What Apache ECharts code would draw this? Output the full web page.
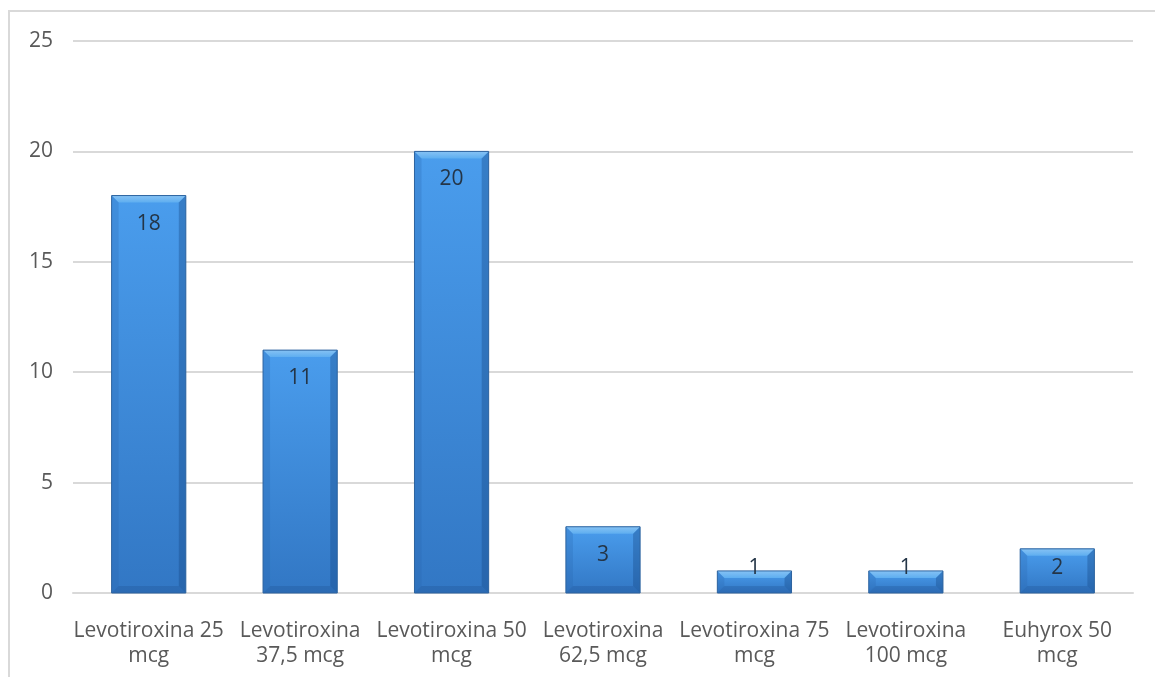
<!DOCTYPE html>
<html>
<head>
<meta charset="utf-8">
<script src="https://cdn.jsdelivr.net/npm/echarts@6/dist/echarts.min.js"></script>
<style>
  html, body { margin: 0; padding: 0; background: #fff; }
  #chart { width: 1155px; height: 677px; }
</style>
</head>
<body>
<div id="chart"></div>
<script>
// Presentations of levothyroxine and number of patients on each
const categories = [
  'Levotiroxina 25\nmcg',
  'Levotiroxina\n37,5 mcg',
  'Levotiroxina 50\nmcg',
  'Levotiroxina\n62,5 mcg',
  'Levotiroxina 75\nmcg',
  'Levotiroxina\n100 mcg',
  'Euhyrox 50\nmcg'
];
const patients = [18, 11, 20, 3, 1, 1, 2];
const yTicks = [0, 5, 10, 15, 20, 25];

const FONT = '"Open Sans", "Liberation Sans", sans-serif';

// Bevelled bar: flat face plus lit top edge and shaded sides/bottom
function renderBevelBar(params, api) {
  const idx = api.value(0);
  const val = api.value(1);
  const top = api.coord([idx, val]);
  const base = api.coord([idx, 0]);
  const w = api.size([1, 0])[0] * 0.49;
  const x0 = top[0] - w / 2, x1 = top[0] + w / 2;
  const y0 = top[1], y1 = base[1];
  const h = y1 - y0;
  const b = Math.min(7, h / 3);

  const face = new echarts.graphic.LinearGradient(0, 0, 0, 1, [
    { offset: 0, color: '#4a9ded' },
    { offset: 1, color: '#3277c4' }
  ]);
  const labelY = Math.min(y0 + 28, y1 - 25);

  return {
    type: 'group',
    children: [
      { type: 'rect', shape: { x: x0, y: y0, width: w, height: h },
        style: { fill: face } },
      // top bevel (highlight)
      { type: 'polygon',
        shape: { points: [[x0, y0], [x1, y0], [x1 - b, y0 + b], [x0 + b, y0 + b]] },
        style: { fill: new echarts.graphic.LinearGradient(0, 0, 0, 1, [
          { offset: 0, color: '#86c2f4' }, { offset: 1, color: '#5eaef0' }]) } },
      // left bevel
      { type: 'polygon',
        shape: { points: [[x0, y0], [x0 + b, y0 + b], [x0 + b, y1 - b], [x0, y1]] },
        style: { fill: 'rgba(40,100,170,0.25)' } },
      // right bevel
      { type: 'polygon',
        shape: { points: [[x1, y0], [x1 - b, y0 + b], [x1 - b, y1 - b], [x1, y1]] },
        style: { fill: 'rgba(20,70,130,0.35)' } },
      // bottom bevel
      { type: 'polygon',
        shape: { points: [[x0, y1], [x0 + b, y1 - b], [x1 - b, y1 - b], [x1, y1]] },
        style: { fill: 'rgba(20,60,120,0.2)' } },
      // outline
      { type: 'rect', shape: { x: x0, y: y0, width: w, height: h },
        style: { fill: 'none', stroke: '#2d639f', lineWidth: 1 } },
      // value label
      { type: 'text',
        style: { text: String(val), x: top[0], y: labelY,
          align: 'center', verticalAlign: 'middle',
          font: '21px ' + FONT, fill: '#243547' } }
    ]
  };
}

const chart = echarts.init(document.getElementById('chart'), null, { renderer: 'canvas' });
chart.setOption({
  backgroundColor: '#ffffff',
  animation: false,
  graphic: [
    { type: 'rect', shape: { x: 9, y: 11, width: 1200, height: 700 },
      style: { fill: 'none', stroke: '#d9d9d9', lineWidth: 2 }, z: -10 }
  ],
  grid: { left: 73, right: 22, top: 41, bottom: 84 },
  xAxis: {
    type: 'category',
    data: categories,
    axisLine: { show: true, lineStyle: { color: '#d9d9d9', width: 2 } },
    axisTick: { show: false },
    axisLabel: {
      interval: 0, color: '#595959', fontSize: 21, fontFamily: FONT,
      lineHeight: 25, margin: 26
    }
  },
  yAxis: {
    type: 'value',
    min: yTicks[0], max: yTicks[yTicks.length - 1], interval: 5,
    axisLine: { show: false },
    axisTick: { show: false },
    splitLine: { lineStyle: { color: '#d9d9d9', width: 2 } },
    axisLabel: { color: '#595959', fontSize: 21, fontFamily: FONT, margin: 20 }
  },
  series: [{
    type: 'custom',
    renderItem: renderBevelBar,
    encode: { x: 0, y: 1 },
    data: patients.map((v, i) => [i, v])
  }]
});
</script>
</body>
</html>
